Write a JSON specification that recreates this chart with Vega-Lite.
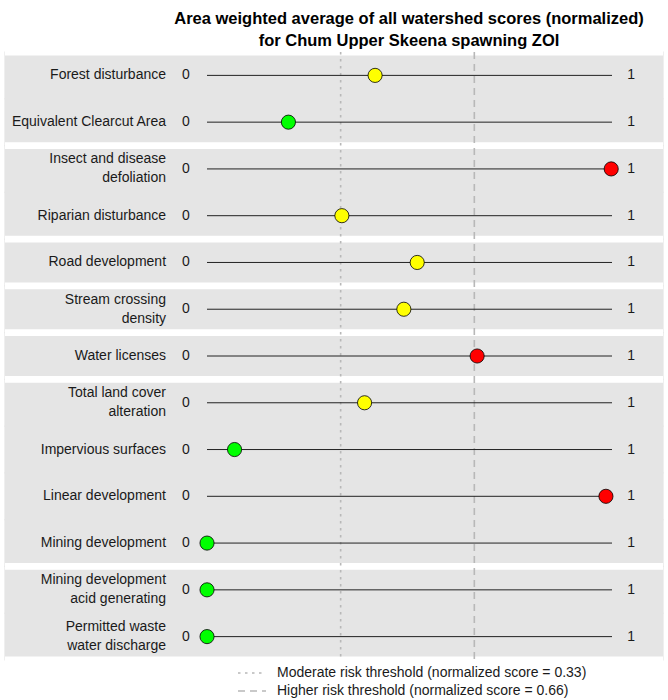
{
  "$schema": "https://vega.github.io/schema/vega-lite/v6.json",
  "width": 658,
  "height": 608,
  "autosize": {"type": "none"},
  "padding": {"left": 5, "right": 5, "top": 52, "bottom": 40},
  "background": "white",
  "config": {
    "view": {"stroke": null},
    "font": "Liberation Sans",
    "text": {"font": "Liberation Sans", "fontSize": 14, "color": "#1A1A1A"}
  },
  "title": {
    "text": ["Area weighted average of all watershed scores (normalized)", "for Chum Upper Skeena spawning ZOI"],
    "font": "Liberation Sans",
    "fontSize": 16.5,
    "fontWeight": "bold",
    "color": "#000000",
    "anchor": "middle",
    "dx": 75,
    "lineHeight": 22,
    "offset": -1
  },
  "datasets": {
    "scores": [
      {"rank": 1, "item": "Forest disturbance", "group": "g1", "score": 0.415, "risk": "Moderate"},
      {"rank": 2, "item": "Equivalent Clearcut Area", "group": "g1", "score": 0.201, "risk": "Low"},
      {"rank": 3, "item": "Insect and disease\ndefoliation", "group": "g2", "score": 0.998, "risk": "High"},
      {"rank": 4, "item": "Riparian disturbance", "group": "g2", "score": 0.333, "risk": "Moderate"},
      {"rank": 5, "item": "Road development", "group": "g3", "score": 0.519, "risk": "Moderate"},
      {"rank": 6, "item": "Stream crossing\ndensity", "group": "g4", "score": 0.486, "risk": "Moderate"},
      {"rank": 7, "item": "Water licenses", "group": "g5", "score": 0.667, "risk": "High"},
      {"rank": 8, "item": "Total land cover\nalteration", "group": "g6", "score": 0.389, "risk": "Moderate"},
      {"rank": 9, "item": "Impervious surfaces", "group": "g6", "score": 0.068, "risk": "Low"},
      {"rank": 10, "item": "Linear development", "group": "g6", "score": 0.985, "risk": "High"},
      {"rank": 11, "item": "Mining development", "group": "g6", "score": 0.0, "risk": "Low"},
      {"rank": 12, "item": "Mining development\nacid generating", "group": "g7", "score": 0.0, "risk": "Low"},
      {"rank": 13, "item": "Permitted waste\nwater discharge", "group": "g7", "score": 0.0, "risk": "Low"}
    ],
    "thresholds": [
      {"threshold": "Moderate risk threshold (normalized score = 0.33)", "value": 0.33},
      {"threshold": "Higher risk threshold (normalized score = 0.66)", "value": 0.66}
    ]
  },
  "data": {"name": "scores"},
  "resolve": {"scale": {"x": "shared", "y": "shared"}},
  "layer": [
    {
      "mark": {"type": "rect", "color": "#E5E5E5", "stroke": "#E5E5E5", "strokeWidth": 1.2},
      "encoding": {
        "y": {"field": "item", "type": "nominal", "sort": {"field": "rank", "op": "min", "order": "ascending"}, "axis": null,
              "scale": {"type": "band", "paddingInner": 0, "paddingOuter": 0}}
      }
    },
    {
      "transform": [
        {"joinaggregate": [{"op": "min", "field": "rank", "as": "firstRank"}], "groupby": ["group"]},
        {"filter": "datum.rank == datum.firstRank"}
      ],
      "mark": {"type": "rule", "color": "white", "strokeWidth": 6.8},
      "encoding": {
        "y": {"field": "item", "type": "nominal", "sort": {"field": "rank", "op": "min", "order": "ascending"}, "bandPosition": 0}
      }
    },
    {
      "transform": [{"filter": "datum.rank == 13"}],
      "mark": {"type": "rule", "color": "white", "strokeWidth": 6.8},
      "encoding": {
        "y": {"field": "item", "type": "nominal", "sort": {"field": "rank", "op": "min", "order": "ascending"}, "bandPosition": 1}
      }
    },
    {
      "data": {"name": "thresholds"},
      "mark": {"type": "rule", "color": "#B8B8B8", "strokeWidth": 1.6},
      "encoding": {
        "x": {"field": "value", "type": "quantitative",
              "scale": {"domain": [-0.4988, 1.1259], "nice": false, "zero": false}, "axis": null},
        "strokeDash": {
          "field": "threshold", "type": "nominal",
          "scale": {
            "domain": ["Moderate risk threshold (normalized score = 0.33)", "Higher risk threshold (normalized score = 0.66)"],
            "range": [[2.5, 4.5], [7, 5]]
          },
          "legend": {
            "title": null,
            "orient": "none",
            "legendX": 232,
            "legendY": 612,
            "direction": "vertical",
            "symbolType": "stroke",
            "symbolSize": 784,
            "symbolStrokeColor": "#B8B8B8",
            "symbolStrokeWidth": 1.6,
            "clipHeight": 18,
            "rowPadding": 0,
            "labelFont": "Liberation Sans",
            "labelFontSize": 14,
            "labelColor": "#1A1A1A",
            "labelOffset": 10,
            "labelLimit": 500
          }
        }
      }
    },
    {
      "mark": {"type": "rule", "color": "#222222", "strokeWidth": 1},
      "encoding": {
        "y": {"field": "item", "type": "nominal", "sort": {"field": "rank", "op": "min", "order": "ascending"}},
        "x": {"datum": 0, "type": "quantitative"},
        "x2": {"datum": 1}
      }
    },
    {
      "mark": {"type": "point", "filled": true, "size": 200, "stroke": "#000000", "strokeWidth": 0.8, "opacity": 1},
      "encoding": {
        "y": {"field": "item", "type": "nominal", "sort": {"field": "rank", "op": "min", "order": "ascending"}},
        "x": {"field": "score", "type": "quantitative"},
        "fill": {"field": "risk", "type": "nominal",
                  "scale": {"domain": ["Low", "Moderate", "High"], "range": ["#00FF00", "#FFFF00", "#FF0000"]},
                  "legend": null}
      }
    },
    {
      "transform": [{"filter": "indexof(datum.item, '\\n') < 0"}],
      "mark": {"type": "text", "align": "right", "baseline": "middle"},
      "encoding": {
        "y": {"field": "item", "type": "nominal", "sort": {"field": "rank", "op": "min", "order": "ascending"}},
        "x": {"datum": -0.1012, "type": "quantitative"},
        "text": {"field": "item"}
      }
    },
    {
      "transform": [{"filter": "indexof(datum.item, '\\n') >= 0"}],
      "mark": {"type": "text", "align": "right", "baseline": "middle", "lineBreak": "\n", "lineHeight": 19, "dy": -9.5},
      "encoding": {
        "y": {"field": "item", "type": "nominal", "sort": {"field": "rank", "op": "min", "order": "ascending"}},
        "x": {"datum": -0.1012, "type": "quantitative"},
        "text": {"field": "item"}
      }
    },
    {
      "mark": {"type": "text", "align": "center", "baseline": "middle"},
      "encoding": {
        "y": {"field": "item", "type": "nominal", "sort": {"field": "rank", "op": "min", "order": "ascending"}},
        "x": {"datum": -0.052, "type": "quantitative"},
        "text": {"value": "0"}
      }
    },
    {
      "mark": {"type": "text", "align": "center", "baseline": "middle"},
      "encoding": {
        "y": {"field": "item", "type": "nominal", "sort": {"field": "rank", "op": "min", "order": "ascending"}},
        "x": {"datum": 1.047, "type": "quantitative"},
        "text": {"value": "1"}
      }
    }
  ]
}
